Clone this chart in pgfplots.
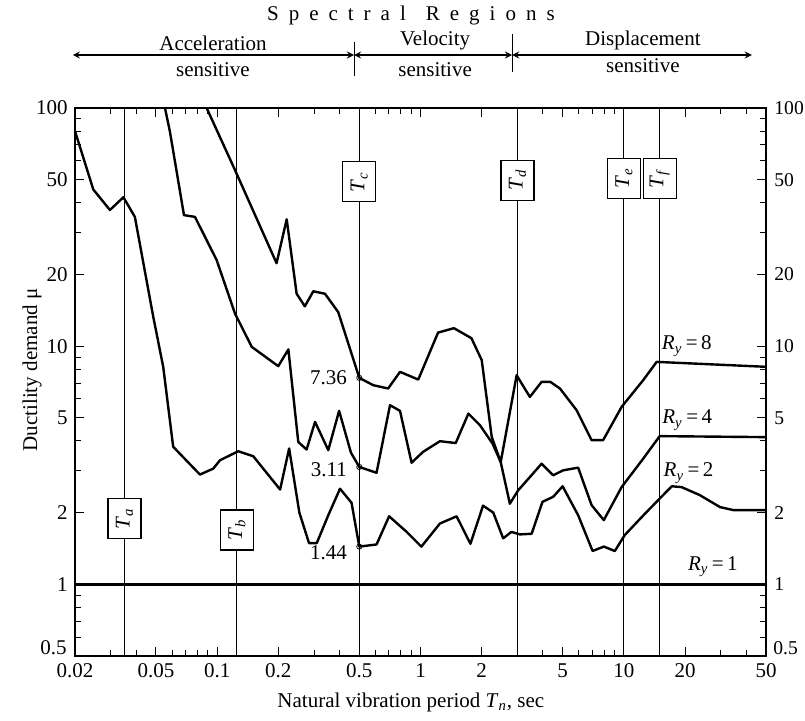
\documentclass[border=0pt]{standalone}
\usepackage{fontspec}
\setmainfont{Liberation Serif}
\usepackage{pgfplots}
\pgfplotsset{compat=1.18}
\newcommand{\Tsub}[1]{\textit{T}\textsubscript{\textit{#1}}}
\newcommand{\Ry}[1]{\textit{R}\textsubscript{\textit{y}}\,=\,#1}

\begin{document}
\fontsize{10.5}{12}\selectfont
\begin{tikzpicture}
\begin{axis}[
  name=ax,
  scale only axis,
  width=345.5pt, height=274pt,
  xmode=log, ymode=log,
  xmin=0.02, xmax=50, ymin=0.5, ymax=100,
  xtick={0.02,0.05,0.1,0.2,0.5,1,2,5,10,20,50},
  xticklabels={0.02,0.05,0.1,0.2,0.5,1,2,5,10,20,50},
  minor xtick={0.03,0.04,0.06,0.07,0.08,0.09,0.3,0.4,0.6,0.7,0.8,0.9,3,4,6,7,8,9,30,40},
  ytick={0.5,1,2,5,10,20,50,100},
  yticklabels={{},1,2,5,10,20,50,100},
  minor ytick={0.6,0.7,0.8,0.9,3,4,6,7,8,9,30,40,60,70,80,90},
  tick align=inside,
  xtick pos=both, ytick pos=both,
  /pgf/number format/assume math mode=true,
  tick label style={font=\fontsize{10.5}{12}\selectfont},
  axis line style={line width=0.8pt},
  every tick/.style={black, line width=0.5pt},
  clip=false,
]
% period boundaries
\addplot[black, line width=0.5pt] coordinates {(0.035,0.5) (0.035,100)};
\addplot[black, line width=0.5pt] coordinates {(0.125,0.5) (0.125,100)};
\addplot[black, line width=0.5pt] coordinates {(0.5,0.5) (0.5,100)};
\addplot[black, line width=0.5pt] coordinates {(3,0.5) (3,100)};
\addplot[black, line width=0.5pt] coordinates {(10,0.5) (10,100)};
\addplot[black, line width=0.5pt] coordinates {(15,0.5) (15,100)};

% Ry = 1
\addplot[black, line width=1.2pt] coordinates {(0.02,1) (50,1)};

% Ry = 2
\addplot[black, line width=1.2pt, line join=round] coordinates {
(0.02,80) (0.0246,45.5) (0.0297,37.3) (0.0346,42.2) (0.0394,34.9)
(0.0485,13.3) (0.0543,8.19) (0.0608,3.78) (0.0823,2.89) (0.0957,3.06)
(0.1033,3.32) (0.127,3.62) (0.1505,3.45) (0.204,2.50) (0.226,3.72)
(0.2537,2.0) (0.283,1.49) (0.309,1.49) (0.352,1.95) (0.402,2.52)
(0.458,2.20) (0.5,1.44) (0.608,1.47) (0.701,1.93) (0.855,1.66)
(1.01,1.44) (1.246,1.80) (1.505,1.93) (1.76,1.48) (2.03,2.14)
(2.28,2.0) (2.55,1.56) (2.80,1.66) (3.08,1.62) (3.52,1.63)
(3.98,2.22) (4.49,2.33) (5.0,2.58) (5.96,1.95) (7.02,1.38)
(7.97,1.44) (9.03,1.38) (10.1,1.61) (12.7,1.98) (15.0,2.29)
(17.2,2.58) (19.2,2.56) (23.6,2.37) (29.7,2.11) (34.5,2.05) (50,2.05)
};

% Ry = 4
\addplot[black, line width=1.2pt, line join=round] coordinates {
(0.0554,100) (0.0586,79.5) (0.0687,35.5) (0.0778,34.9) (0.0994,23.0)
(0.1224,13.7) (0.148,9.93) (0.1998,8.24) (0.224,9.69) (0.2506,3.96)
(0.2754,3.68) (0.303,4.81) (0.352,3.66) (0.398,5.35) (0.455,3.57)
(0.5,3.11) (0.608,2.94) (0.708,5.65) (0.793,5.35) (0.904,3.24)
(1.03,3.60) (1.246,3.99) (1.49,3.92) (1.72,5.21) (1.96,4.66)
(2.26,3.90) (2.48,3.26) (2.75,2.18) (3.02,2.48) (3.45,2.82)
(3.94,3.21) (4.49,2.87) (5.03,3.01) (5.96,3.09) (6.94,2.15)
(7.97,1.86) (9.75,2.56) (12.45,3.37) (15.0,4.19) (50,4.15)
};

% Ry = 8
\addplot[black, line width=1.2pt, line join=round] coordinates {
(0.0888,100) (0.1224,54.9) (0.196,22.3) (0.2198,34.1) (0.246,16.6)
(0.270,14.7) (0.297,17.0) (0.339,16.6) (0.394,13.9) (0.5,7.36)
(0.585,6.86) (0.693,6.64) (0.793,7.80) (0.975,7.24) (1.22,11.4)
(1.46,11.9) (1.78,10.8) (2.0,8.74) (2.24,4.16) (2.48,3.26)
(2.97,7.55) (3.45,6.12) (3.94,7.08) (4.35,7.08) (4.85,6.64)
(5.86,5.38) (6.94,4.03) (7.91,4.03) (9.75,5.56) (12.45,7.20)
(14.5,8.59) (50,8.19)
};

% values at Tc
\addplot[only marks, mark=o, mark size=1.3pt, mark options={line width=0.4pt, fill=white}]
  coordinates {(0.5,7.36) (0.5,3.11) (0.5,1.44)};
\node[anchor=east, xshift=-2.5pt] at (axis cs:0.5,7.36) {7.36};
\node[anchor=east, xshift=-2.5pt, yshift=-1.5pt] at (axis cs:0.5,3.11) {3.11};
\node[anchor=east, xshift=-2.5pt, yshift=-3pt] at (axis cs:0.5,1.44) {1.44};

% boxes
\tikzset{tbox/.style={draw, fill=white, line width=0.6pt, rotate=90,
  minimum width=20pt, minimum height=16.5pt, inner sep=1pt}}
\node[tbox] at (axis cs:0.035,1.89) {\Tsub{a}};
\node[tbox] at (axis cs:0.125,1.69) {\Tsub{b}};
\node[tbox] at (axis cs:0.5,49) {\Tsub{c}};
\node[tbox] at (axis cs:3,49.8) {\Tsub{d}};
\node[tbox] at (axis cs:10,50.5) {\Tsub{e}};
\node[tbox] at (axis cs:15,50.5) {\Tsub{f}};

% curve labels
\node at (axis cs:20.4,10) {\Ry{8}};
\node at (axis cs:20.5,4.89) {\Ry{4}};
\node at (axis cs:20.8,2.93) {\Ry{2}};
\node at (axis cs:27.4,1.19) {\Ry{1}};

% left 0.5 label, raised off the corner
\node[anchor=east, inner sep=1pt, xshift=-3pt, yshift=4pt] at (axis cs:0.02,0.5) {0.5};

% right tick labels
\tikzset{rlab/.style={anchor=west, inner sep=0.5pt, xshift=3.5pt, font=\fontsize{9.8}{11}\selectfont}}
\node[rlab] at (axis cs:50,100) {100};
\node[rlab] at (axis cs:50,50) {50};
\node[rlab] at (axis cs:50,20) {20};
\node[rlab] at (axis cs:50,10) {10};
\node[rlab] at (axis cs:50,5) {5};
\node[rlab] at (axis cs:50,2) {2};
\node[rlab] at (axis cs:50,1) {1};
\node[rlab, xshift=-0.5pt, yshift=4pt] at (axis cs:50,0.5) {0.5};

% axis titles
\node at ([yshift=-23pt]rel axis cs:0.486,0) {Natural vibration period \Tsub{n}, sec};
\node[rotate=90] at ([xshift=-21.5pt]rel axis cs:0,0.522) {Ductility demand μ};

% spectral regions
\node at ([yshift=46.5pt]axis cs:0.897,100) {S\hspace{5pt}p\hspace{5pt}e\hspace{5pt}c\hspace{5pt}t\hspace{5pt}r\hspace{5pt}a\hspace{5pt}l\hspace{10pt}R\hspace{5pt}e\hspace{5pt}g\hspace{5pt}i\hspace{5pt}o\hspace{5pt}n\hspace{5pt}s};
\draw[line width=0.6pt, <->, >=stealth] ([yshift=26.5pt]axis cs:0.0195,100) -- ([yshift=26.5pt]axis cs:0.471,100);
\draw[line width=0.6pt, <->, >=stealth] ([yshift=26.5pt]axis cs:0.471,100) -- ([yshift=26.5pt]axis cs:2.82,100);
\draw[line width=0.6pt, <->, >=stealth] ([yshift=26.5pt]axis cs:2.82,100) -- ([yshift=26.5pt]axis cs:42.6,100);
\draw[line width=0.5pt] ([yshift=16pt]axis cs:0.471,100) -- ([yshift=33pt]axis cs:0.471,100);
\draw[line width=0.5pt] ([yshift=18pt]axis cs:2.82,100) -- ([yshift=37pt]axis cs:2.82,100);
\node at ([yshift=32.5pt]axis cs:0.0954,100) {Acceleration};
\node at ([yshift=19pt]axis cs:0.0954,100) {sensitive};
\node at ([yshift=34pt]axis cs:1.18,100) {Velocity};
\node at ([yshift=19pt]axis cs:1.18,100) {sensitive};
\node at ([yshift=34pt]axis cs:12.4,100) {Displacement};
\node at ([yshift=21pt]axis cs:12.4,100) {sensitive};
\end{axis}
\pgfresetboundingbox
\path[use as bounding box] ([shift={(-37.5pt,-32pt)}]ax.south west) rectangle ([shift={(19.5pt,54pt)}]ax.north east);
\end{tikzpicture}
\end{document}
